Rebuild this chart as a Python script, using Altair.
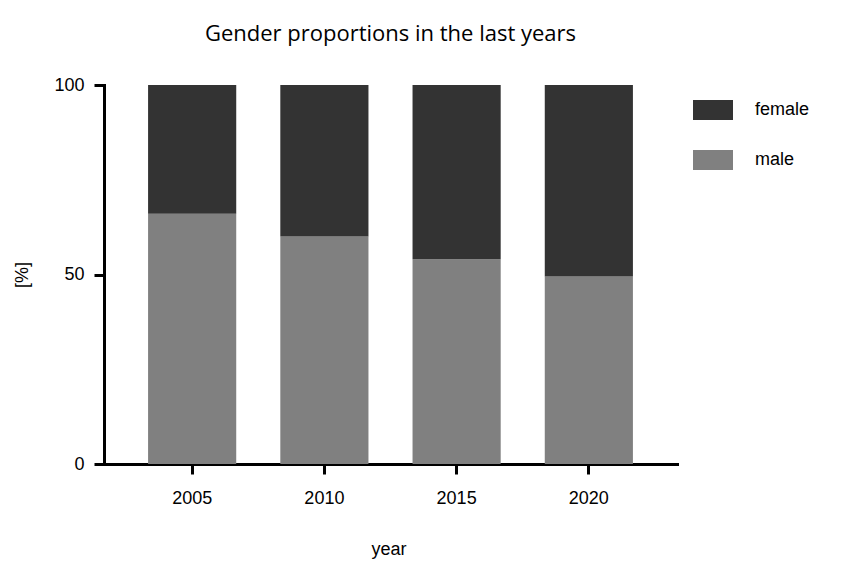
import altair as alt
import pandas as pd

years = ["2005", "2010", "2015", "2020"]
male = [66, 60, 54, 49.5]
female = [34, 40, 46, 50.5]
series = ["female", "male"]
colors = ["#333333", "#808080"]

rows = []
for y, m, f in zip(years, male, female):
    rows.append({"year": y, "gender": "male", "value": m, "ord": 0})
    rows.append({"year": y, "gender": "female", "value": f, "ord": 1})
df = pd.DataFrame(rows)

W, H = 573, 379
FONT = "Liberation Sans"

chart = alt.Chart(df).mark_bar().encode(
    x=alt.X(
        "year:N",
        scale=alt.Scale(paddingInner=1 / 3, paddingOuter=1 / 3),
        axis=alt.Axis(
            title="year",
            labelAngle=0,
            labelFont=FONT,
            labelFontSize=18,
            labelColor="#000000",
            labelPadding=15,
            domainColor="#000000",
            domainWidth=3,
            domainCap="square",
            tickColor="#000000",
            tickWidth=3,
            tickSize=10,
            titleFont=FONT,
            titleFontSize=18,
            titleFontWeight="normal",
            titleColor="#000000",
            titleX=W / 2 - 2,
            titleY=85,
            titleBaseline="middle",
            titleAlign="center",
        ),
    ),
    y=alt.Y(
        "value:Q",
        stack="zero",
        scale=alt.Scale(domain=[0, 100], nice=False),
        axis=alt.Axis(
            title="[%]",
            values=[0, 50, 100],
            grid=False,
            labelFont=FONT,
            labelFontSize=18,
            labelColor="#000000",
            labelPadding=10,
            domainColor="#000000",
            domainWidth=3,
            domainCap="square",
            tickColor="#000000",
            tickWidth=3,
            tickSize=10,
            titleFont=FONT,
            titleFontSize=18,
            titleFontWeight="normal",
            titleColor="#000000",
            titleAngle=-90,
            titleX=-82,
            titleY=H / 2,
            titleBaseline="middle",
            titleAlign="center",
        ),
    ),
    color=alt.Color(
        "gender:N",
        scale=alt.Scale(domain=series, range=colors),
        legend=alt.Legend(
            title=None,
            orient="none",
            legendX=589,
            legendY=5,
            padding=0,
            symbolType="M-1,-0.5H1V0.5H-1Z",
            symbolSize=1600,
            symbolStrokeWidth=0,
            symbolOpacity=1,
            rowPadding=20,
            labelOffset=22,
            labelFont=FONT,
            labelFontSize=18,
            labelColor="#000000",
        ),
    ),
    order=alt.Order("ord:Q"),
).properties(
    width=W,
    height=H,
    title=alt.TitleParams(
        "Gender proportions in the last years",
        font="Open Sans",
        fontSize=22,
        fontWeight="normal",
        color="#000000",
        anchor="middle",
        offset=30,
    ),
    autosize=alt.AutoSizeParams(type="none"),
    padding={"left": 96, "top": 77, "right": 150, "bottom": 98},
).configure_view(stroke=None)

chart.save("out.html", embed_options={"renderer": "svg", "actions": False})
